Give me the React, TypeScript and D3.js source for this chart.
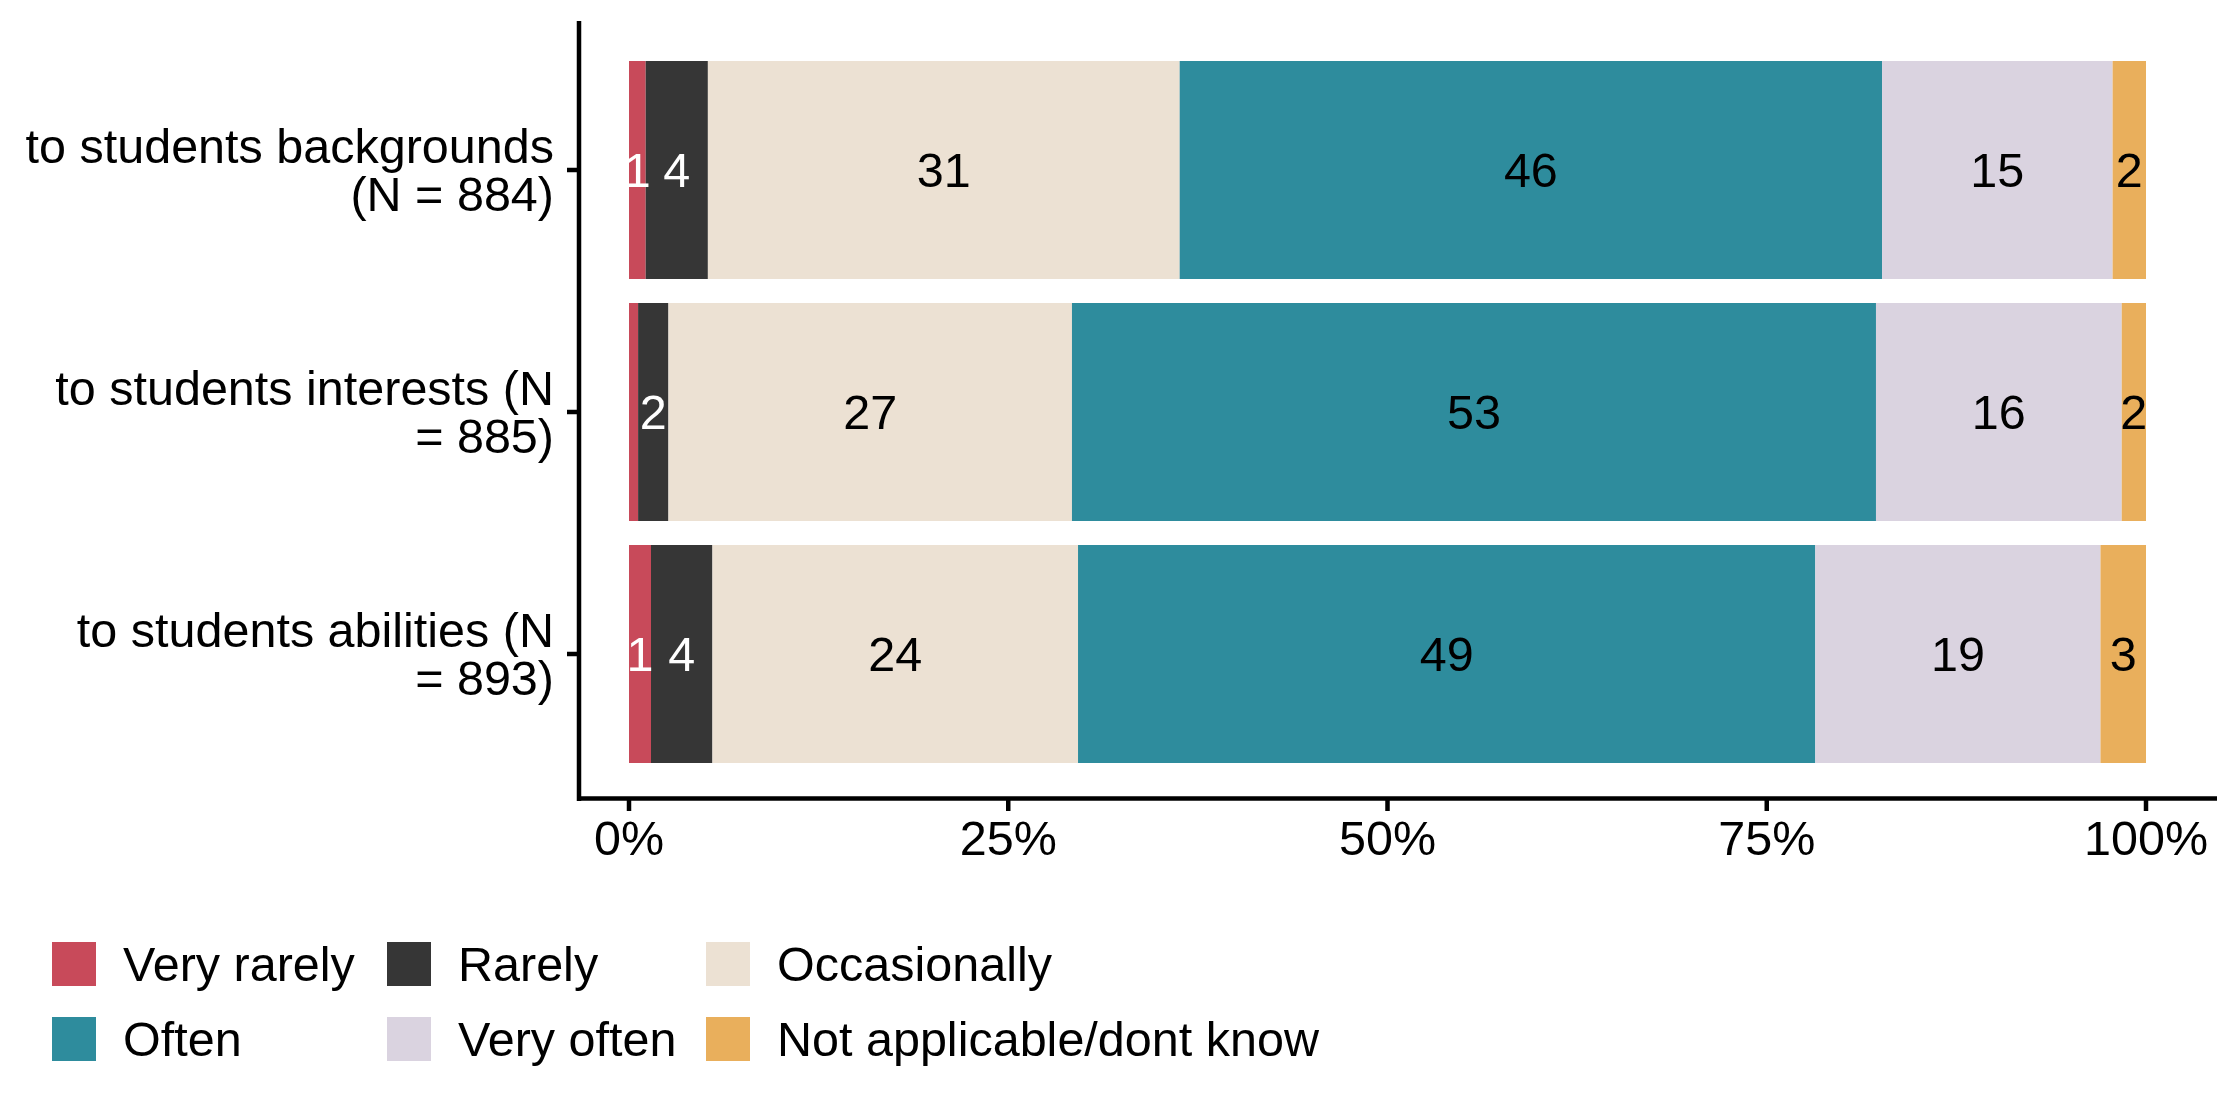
import React from "react";
import * as d3 from "d3";

const categories = [
  "to students backgrounds (N = 884)",
  "to students interests (N = 885)",
  "to students abilities (N = 893)",
];
const labelLines = [
  ["to students backgrounds", "(N = 884)"],
  ["to students interests (N", "= 885)"],
  ["to students abilities (N", "= 893)"],
];
const responses = ["Very rarely", "Rarely", "Occasionally", "Often", "Very often", "Not applicable/dont know"];
const veryRarely = [1.1, 0.6, 1.45];
const rarely = [4.1, 2.0, 4.05];
const occasionally = [31.1, 26.6, 24.1];
const often = [46.3, 53.0, 48.6];
const veryOften = [15.2, 16.2, 18.8];
const notApplicable = [2.2, 1.6, 3.0];
const xTicks = [0, 25, 50, 75, 100];
const colors = ["#C84A5A", "#363636", "#ECE1D3", "#2E8C9D", "#DAD3E0", "#E9AF5C"];
const labelColors = ["#FFFFFF", "#FFFFFF", "#000000", "#000000", "#000000", "#000000"];

const series = [veryRarely, rarely, occasionally, often, veryOften, notApplicable];

export default function App() {
  const W = 2240, H = 1113;
  const font = "'Liberation Sans', Arial, Helvetica, sans-serif";
  const fs = 48.5;
  const x = d3.scaleLinear().domain([0, 100]).range([629, 2146]);
  const yc = d3.scalePoint().domain(categories).range([170, 654]);
  const bandH = 218;

  const rows = categories.map((c, i) => {
    const vals = series.map((s) => s[i]);
    const stack = d3.cumsum(vals);
    return vals.map((v, k) => ({ cat: c, k, v, x0: stack[k] - v, x1: stack[k] }));
  });

  const legendCols = [52, 387, 706];
  const legendRows = [942, 1017];

  return (
    <svg width={W} height={H} style={{ position: "absolute", left: 0, top: 0, background: "#fff" }} fontFamily={font}>
      <rect x={0} y={0} width={W} height={H} fill="#fff" />
      {rows.map((segs, i) =>
        segs.map((s) => (
          <rect
            key={`${i}-${s.k}`}
            x={x(s.x0)}
            y={(yc(s.cat) as number) - bandH / 2}
            width={x(s.x1) - x(s.x0)}
            height={bandH}
            fill={colors[s.k]}
          />
        ))
      )}
      {rows.map((segs, i) =>
        segs
          .filter((s) => s.v >= 1)
          .map((s) => (
            <text
              key={`l${i}-${s.k}`}
              x={(x(s.x0) + x(s.x1)) / 2}
              y={(yc(s.cat) as number) + fs * 0.36}
              textAnchor="middle"
              fontSize={fs}
              fill={labelColors[s.k]}
            >
              {Math.round(s.v)}
            </text>
          ))
      )}
      <line x1={579} x2={579} y1={21} y2={801} stroke="#000" strokeWidth={4.5} />
      <line x1={577} x2={2217} y1={798.5} y2={798.5} stroke="#000" strokeWidth={4.5} />
      {categories.map((c, i) => (
        <g key={c}>
          <line x1={567} x2={579} y1={yc(c)} y2={yc(c)} stroke="#000" strokeWidth={4.5} />
          {labelLines[i].map((t, j) => (
            <text
              key={j}
              x={554}
              y={(yc(c) as number) - 24 + j * 48 + fs * 0.36}
              textAnchor="end"
              fontSize={fs}
              fill="#000"
            >
              {t}
            </text>
          ))}
        </g>
      ))}
      {xTicks.map((t) => (
        <g key={t}>
          <line x1={x(t)} x2={x(t)} y1={800} y2={811} stroke="#000" strokeWidth={4.5} />
          <text x={x(t)} y={855} textAnchor="middle" fontSize={fs} fill="#000">
            {t + "%"}
          </text>
        </g>
      ))}
      {responses.map((r, k) => {
        const col = k % 3, row = Math.floor(k / 3);
        const lx = legendCols[col], ly = legendRows[row];
        return (
          <g key={r}>
            <rect x={lx} y={ly} width={44} height={44} fill={colors[k]} />
            <text x={lx + 71} y={ly + 39} fontSize={fs} fill="#000">
              {r}
            </text>
          </g>
        );
      })}
    </svg>
  );
}
